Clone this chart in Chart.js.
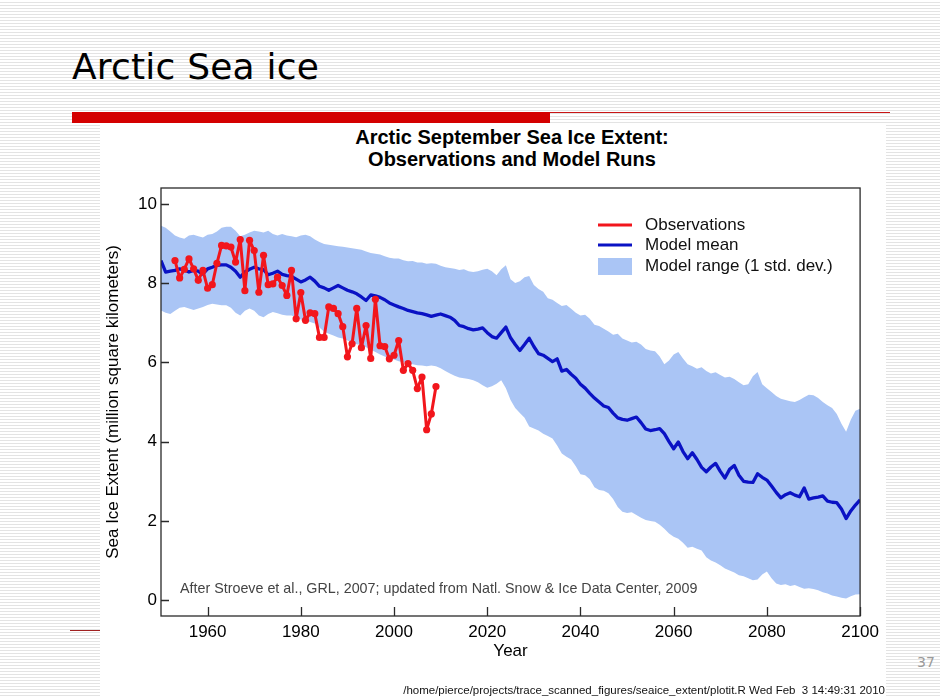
<!DOCTYPE html>
<html>
<head>
<meta charset="utf-8">
<title>Arctic Sea ice</title>
<script src="https://cdn.jsdelivr.net/npm/chart.js@4.4.1/dist/chart.umd.min.js"></script>
<style>
  html, body { margin: 0; padding: 0; }
  body {
    width: 940px; height: 698px; position: relative; overflow: hidden;
    background: repeating-linear-gradient(180deg, #ffffff 0px, #ffffff 2px, #e3e3e3 2px, #e3e3e3 3px);
    font-family: "Liberation Sans", Arial, Helvetica, sans-serif;
  }
  #slideTitle {
    position: absolute; left: 72px; top: 45px;
    font-family: "DejaVu Sans", Verdana, sans-serif; font-size: 36px; color: #000;
    line-height: 44px; white-space: nowrap; letter-spacing: 0.2px;
  }
  #redBar { position: absolute; left: 72px; top: 112px; width: 478px; height: 11px; background: #d40000; }
  #redRule { position: absolute; left: 550px; top: 112px; width: 340px; height: 1px; background: #c81414; }
  #leftRule { position: absolute; left: 70px; top: 630px; width: 30px; height: 1px; background: #a02020; }
  #panel { position: absolute; left: 100px; top: 125px; width: 786px; height: 573px; background: #fff; }
  #chartTitle {
    position: absolute; left: 100px; top: 126px; width: 824px; text-align: center;
    font-weight: bold; font-size: 20px; line-height: 22px; color: #000;
  }
  #wrap { position: absolute; left: 100px; top: 125px; width: 785px; height: 573px; }
  #footer {
    position: absolute; right: 55px; top: 683px; font-size: 11.5px; line-height: 14px;
    color: #111; white-space: nowrap;
  }
  #pageNo {
    position: absolute; left: 917px; top: 654px; font-family: "DejaVu Sans", sans-serif;
    font-size: 14px; color: #9a9a9a;
  }
</style>
</head>
<body>
<div id="slideTitle">Arctic Sea ice</div>
<div id="redBar"></div>
<div id="redRule"></div>
<div id="leftRule"></div>
<div id="panel"></div>
<div id="chartTitle">Arctic September Sea Ice Extent:<br>Observations and Model Runs</div>
<div id="wrap"><canvas id="chart" width="785" height="573"></canvas></div>
<div id="footer">/home/pierce/projects/trace_scanned_figures/seaice_extent/plotit.R Wed Feb&nbsp; 3 14:49:31 2010</div>
<div id="pageNo">37</div>

<script>
// September sea ice extent, million km²
const obsYears = [
  1953, 1954, 1955, 1956, 1957, 1958, 1959, 1960, 1961, 1962,
  1963, 1964, 1965, 1966, 1967, 1968, 1969, 1970, 1971, 1972,
  1973, 1974, 1975, 1976, 1977, 1978, 1979, 1980, 1981, 1982,
  1983, 1984, 1985, 1986, 1987, 1988, 1989, 1990, 1991, 1992,
  1993, 1994, 1995, 1996, 1997, 1998, 1999, 2000, 2001, 2002,
  2003, 2004, 2005, 2006, 2007, 2008, 2009
];
const obsExtent = [
  8.57, 8.13, 8.35, 8.61, 8.36, 8.07, 8.32, 7.87, 7.96, 8.50,
  8.95, 8.94, 8.91, 8.53, 9.10, 7.81, 9.08, 8.82, 7.77, 8.70,
  7.96, 7.98, 8.15, 7.94, 7.69, 8.32, 7.10, 7.76, 7.06, 7.25,
  7.23, 6.63, 6.63, 7.40, 7.36, 7.23, 6.90, 6.14, 6.47, 7.36,
  6.37, 6.93, 6.10, 7.59, 6.42, 6.40, 6.09, 6.18, 6.55, 5.80,
  5.97, 5.80, 5.34, 5.63, 4.30, 4.70, 5.39
];

const modelYears = [
  1950, 1951, 1952, 1953, 1954, 1955, 1956, 1957, 1958, 1959,
  1960, 1961, 1962, 1963, 1964, 1965, 1966, 1967, 1968, 1969,
  1970, 1971, 1972, 1973, 1974, 1975, 1976, 1977, 1978, 1979,
  1980, 1981, 1982, 1983, 1984, 1985, 1986, 1987, 1988, 1989,
  1990, 1991, 1992, 1993, 1994, 1995, 1996, 1997, 1998, 1999,
  2000, 2001, 2002, 2003, 2004, 2005, 2006, 2007, 2008, 2009,
  2010, 2011, 2012, 2013, 2014, 2015, 2016, 2017, 2018, 2019,
  2020, 2021, 2022, 2023, 2024, 2025, 2026, 2027, 2028, 2029,
  2030, 2031, 2032, 2033, 2034, 2035, 2036, 2037, 2038, 2039,
  2040, 2041, 2042, 2043, 2044, 2045, 2046, 2047, 2048, 2049,
  2050, 2051, 2052, 2053, 2054, 2055, 2056, 2057, 2058, 2059,
  2060, 2061, 2062, 2063, 2064, 2065, 2066, 2067, 2068, 2069,
  2070, 2071, 2072, 2073, 2074, 2075, 2076, 2077, 2078, 2079,
  2080, 2081, 2082, 2083, 2084, 2085, 2086, 2087, 2088, 2089,
  2090, 2091, 2092, 2093, 2094, 2095, 2096, 2097, 2098, 2099,
  2100
];
const modelMean = [
  8.57, 8.28, 8.30, 8.32, 8.36, 8.33, 8.28, 8.32, 8.30, 8.23,
  8.36, 8.40, 8.45, 8.46, 8.46, 8.40, 8.30, 8.15, 8.28, 8.35,
  8.40, 8.36, 8.34, 8.21, 8.25, 8.30, 8.22, 8.19, 8.17, 8.10,
  8.03, 8.08, 8.15, 8.05, 7.92, 7.88, 7.82, 7.88, 7.94, 7.88,
  7.82, 7.78, 7.73, 7.65, 7.56, 7.70, 7.68, 7.64, 7.58, 7.50,
  7.45, 7.40, 7.36, 7.31, 7.28, 7.25, 7.23, 7.20, 7.16, 7.19,
  7.22, 7.18, 7.14, 7.06, 6.93, 6.90, 6.85, 6.82, 6.84, 6.87,
  6.75, 6.65, 6.61, 6.75, 6.89, 6.62, 6.45, 6.30, 6.45, 6.61,
  6.40, 6.22, 6.18, 6.10, 6.02, 6.09, 5.78, 5.82, 5.70, 5.60,
  5.45, 5.35, 5.22, 5.10, 5.00, 4.90, 4.86, 4.72, 4.60, 4.56,
  4.54, 4.58, 4.62, 4.48, 4.32, 4.28, 4.30, 4.33, 4.20, 4.00,
  3.82, 3.99, 3.75, 3.57, 3.72, 3.55, 3.35, 3.24, 3.36, 3.45,
  3.25, 3.08, 3.30, 3.40, 3.15, 3.00, 2.98, 2.97, 3.19, 3.10,
  3.03, 2.88, 2.72, 2.58, 2.66, 2.71, 2.65, 2.61, 2.83, 2.55,
  2.58, 2.60, 2.63, 2.50, 2.47, 2.46, 2.30, 2.06, 2.25, 2.40,
  2.53
];
// mean + 1 standard deviation
const modelHigh = [
  9.45, 9.40, 9.30, 9.20, 9.15, 9.12, 9.20, 9.22, 9.18, 9.15,
  9.22, 9.24, 9.30, 9.40, 9.42, 9.42, 9.32, 9.18, 9.22, 9.28,
  9.32, 9.30, 9.28, 9.32, 9.24, 9.20, 9.24, 9.20, 9.18, 9.16,
  9.20, 9.22, 9.18, 9.10, 9.04, 8.99, 8.97, 8.95, 8.93, 8.92,
  8.90, 8.88, 8.86, 8.84, 8.80, 8.76, 8.74, 8.72, 8.68, 8.64,
  8.62, 8.62, 8.58, 8.55, 8.56, 8.52, 8.52, 8.49, 8.50, 8.49,
  8.44, 8.40, 8.38, 8.36, 8.33, 8.35, 8.30, 8.28, 8.30, 8.34,
  8.36, 8.30, 8.20, 8.35, 8.45, 8.10, 8.00, 8.05, 8.15, 8.18,
  7.95, 7.85, 7.78, 7.62, 7.58, 7.50, 7.42, 7.45, 7.35, 7.25,
  7.18, 7.20, 7.10, 6.95, 6.92, 6.85, 6.78, 6.70, 6.72, 6.60,
  6.55, 6.50, 6.52, 6.45, 6.34, 6.30, 6.28, 6.15, 5.95, 6.05,
  6.20, 6.26, 6.10, 5.95, 5.90, 5.84, 5.88, 5.78, 5.72, 5.75,
  5.68, 5.62, 5.64, 5.58, 5.50, 5.42, 5.45, 5.65, 5.76, 5.45,
  5.35, 5.25, 5.15, 5.08, 5.05, 5.02, 5.00, 5.05, 5.12, 5.18,
  5.17, 5.10, 5.00, 4.92, 4.85, 4.70, 4.45, 4.25, 4.55, 4.78,
  4.83
];
// mean - 1 standard deviation
const modelLow = [
  7.31, 7.25, 7.22, 7.30, 7.38, 7.40, 7.36, 7.32, 7.36, 7.40,
  7.45, 7.48, 7.46, 7.44, 7.44, 7.38, 7.25, 7.18, 7.30, 7.36,
  7.30, 7.18, 7.14, 7.22, 7.27, 7.24, 7.20, 7.18, 7.18, 7.14,
  7.08, 7.04, 7.02, 6.98, 6.88, 6.77, 6.72, 6.68, 6.63, 6.60,
  6.55, 6.50, 6.46, 6.43, 6.38, 6.32, 6.26, 6.20, 6.15, 6.10,
  6.07, 6.03, 6.00, 5.97, 5.95, 5.93, 5.92, 5.90, 5.92, 5.90,
  5.85, 5.78, 5.72, 5.66, 5.62, 5.60, 5.58, 5.55, 5.50, 5.42,
  5.36, 5.40, 5.46, 5.55, 5.35, 5.05, 4.85, 4.72, 4.60, 4.38,
  4.33, 4.28, 4.20, 4.14, 4.08, 3.90, 3.70, 3.62, 3.55, 3.38,
  3.18, 3.15, 3.05, 2.85, 2.78, 2.76, 2.70, 2.55, 2.35, 2.23,
  2.20, 2.22, 2.15, 2.08, 2.02, 2.00, 1.98, 1.90, 1.80, 1.68,
  1.60, 1.55, 1.45, 1.32, 1.35, 1.30, 1.25, 1.08, 1.00, 0.95,
  0.88, 0.80, 0.75, 0.70, 0.63, 0.60, 0.55, 0.50, 0.52, 0.65,
  0.72, 0.55, 0.42, 0.38, 0.40, 0.36, 0.38, 0.33, 0.29, 0.30,
  0.28, 0.25, 0.20, 0.17, 0.12, 0.09, 0.06, 0.04, 0.10, 0.14,
  0.15
];

const yearTicks = [1960, 1980, 2000, 2020, 2040, 2060, 2080, 2100];
const extentTicks = [0, 2, 4, 6, 8, 10];

const seriesNames = ['Observations', 'Model mean', 'Model range (1 std. dev.)'];
const sourceNote = 'After Stroeve et al., GRL, 2007; updated from Natl. Snow & Ice Data Center, 2009';

const RED = '#f2161c';
const BLUE = '#0a12c4';
const BAND = '#aac5f5';
const FONT = '"Liberation Sans", Arial, Helvetica, sans-serif';

const pairs = (xs, ys) => xs.map((x, i) => ({ x: x, y: ys[i] }));

// frame, inward tick marks, legend and source note
const decorations = {
  id: 'decorations',
  afterDatasetsDraw(chart) {
    const { ctx, chartArea: a, scales } = chart;
    ctx.save();
    ctx.strokeStyle = '#2a2a2a';
    ctx.lineWidth = 1.3;
    ctx.strokeRect(a.left, a.top, a.right - a.left, a.bottom - a.top);
    ctx.beginPath();
    scales.x.ticks.forEach(t => {
      const px = Math.round(scales.x.getPixelForValue(t.value)) + 0.5;
      ctx.moveTo(px, a.bottom);
      ctx.lineTo(px, a.bottom - 9);
    });
    scales.y.ticks.forEach(t => {
      const py = Math.round(scales.y.getPixelForValue(t.value)) + 0.5;
      ctx.moveTo(a.left, py);
      ctx.lineTo(a.left + 8, py);
    });
    ctx.stroke();
    ctx.restore();
  },
  afterDraw(chart) {
    const { ctx, chartArea: a } = chart;
    ctx.save();
    const lx = a.left + 437, tx = a.left + 484;
    const rows = [a.top + 37, a.top + 57, a.top + 78];
    ctx.lineCap = 'butt';
    ctx.lineWidth = 3;
    ctx.strokeStyle = RED;
    ctx.beginPath(); ctx.moveTo(lx, rows[0]); ctx.lineTo(lx + 34, rows[0]); ctx.stroke();
    ctx.strokeStyle = BLUE;
    ctx.beginPath(); ctx.moveTo(lx, rows[1]); ctx.lineTo(lx + 34, rows[1]); ctx.stroke();
    ctx.fillStyle = BAND;
    ctx.fillRect(lx, rows[2] - 8, 34, 17);
    ctx.fillStyle = '#111';
    ctx.font = '17px ' + FONT;
    ctx.textBaseline = 'middle';
    ctx.textAlign = 'left';
    seriesNames.forEach((n, i) => ctx.fillText(n, tx, rows[i]));
    ctx.fillStyle = '#444';
    ctx.font = '14.3px ' + FONT;
    ctx.fillText(sourceNote, a.left + 19, a.bottom - 27);
    ctx.restore();
  }
};

new Chart(document.getElementById('chart'), {
  type: 'line',
  data: {
    datasets: [
      {
        label: seriesNames[0],
        data: pairs(obsYears, obsExtent),
        borderColor: RED, backgroundColor: RED,
        borderWidth: 3, pointRadius: 3.6, pointBorderWidth: 0,
        borderJoinStyle: 'round', borderCapStyle: 'round',
        pointBackgroundColor: RED, fill: false, order: 0
      },
      {
        label: seriesNames[1],
        data: pairs(modelYears, modelMean),
        borderColor: BLUE, borderWidth: 3.3, pointRadius: 0,
        borderJoinStyle: 'round', fill: false, order: 1
      },
      {
        label: 'upper',
        data: pairs(modelYears, modelHigh),
        borderWidth: 0, borderColor: 'rgba(0,0,0,0)', pointRadius: 0,
        backgroundColor: BAND, fill: '+1', order: 2
      },
      {
        label: 'lower',
        data: pairs(modelYears, modelLow),
        borderWidth: 0, borderColor: 'rgba(0,0,0,0)', pointRadius: 0,
        fill: false, order: 3
      }
    ]
  },
  options: {
    responsive: false,
    animation: false,
    devicePixelRatio: 1,
    layout: { padding: { left: 0, right: 21, top: 63, bottom: 0 } },
    elements: { line: { tension: 0 } },
    plugins: {
      legend: { display: false },
      tooltip: { enabled: false },
      filler: { propagate: false }
    },
    scales: {
      x: {
        type: 'linear', min: 1950, max: 2100,
        afterBuildTicks: s => { s.ticks = yearTicks.map(v => ({ value: v })); },
        afterFit: s => { s.height = 82; },
        grid: { display: true, drawOnChartArea: false, drawTicks: false },
        border: { display: false },
        ticks: { color: '#000', padding: 6, maxRotation: 0, font: { size: 17, family: FONT }, callback: v => String(v) },
        title: { display: true, text: 'Year', color: '#000', font: { size: 17, family: FONT }, padding: { top: 0, bottom: 36 } }
      },
      y: {
        type: 'linear', min: -0.4, max: 10.4,
        afterBuildTicks: s => { s.ticks = extentTicks.map(v => ({ value: v })); },
        afterFit: s => { s.width = 61; },
        grid: { display: true, drawOnChartArea: false, drawTicks: false },
        border: { display: false },
        ticks: { color: '#000', padding: 4, font: { size: 17, family: FONT }, callback: v => String(v) },
        title: { display: true, text: 'Sea Ice Extent (million square kilometers)', color: '#000', font: { size: 17, family: FONT }, padding: { top: 3, bottom: 0 } }
      }
    }
  },
  plugins: [decorations]
});
</script>
</body>
</html>
